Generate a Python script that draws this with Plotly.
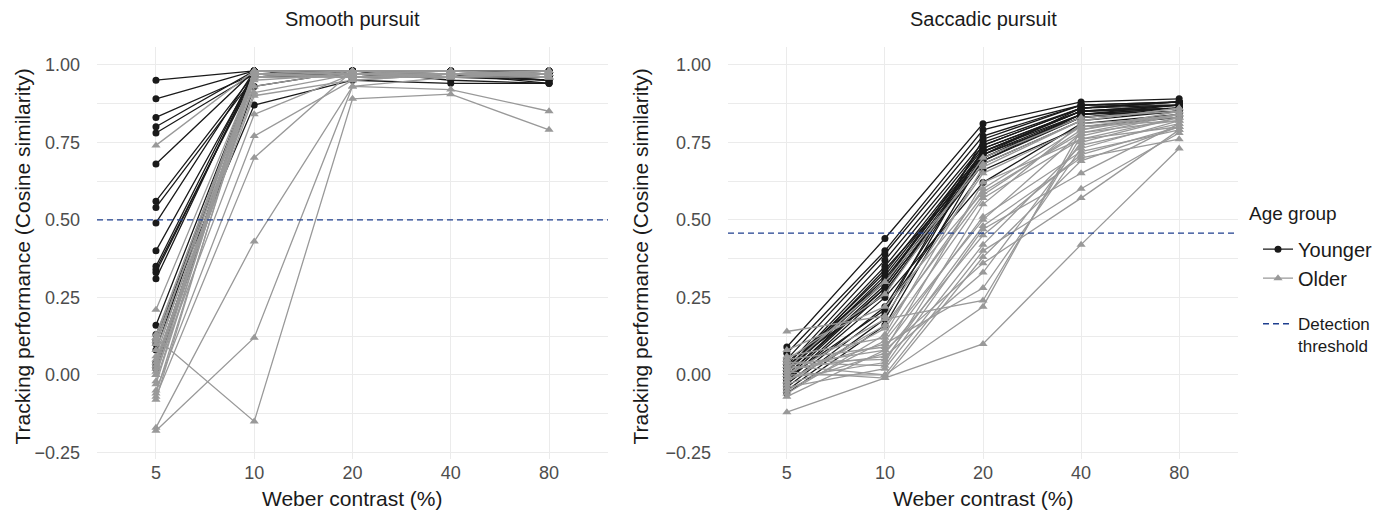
import plotly.graph_objects as go

contrast = ["5", "10", "20", "40", "80"]

# ---- Smooth pursuit ----
smooth_young = [
    [0.95, 0.98, 0.98, 0.97, 0.96],
    [0.89, 0.98, 0.97, 0.96, 0.97],
    [0.83, 0.97, 0.98, 0.98, 0.98],
    [0.80, 0.98, 0.97, 0.97, 0.94],
    [0.78, 0.97, 0.98, 0.96, 0.97],
    [0.68, 0.98, 0.97, 0.97, 0.96],
    [0.56, 0.97, 0.98, 0.98, 0.98],
    [0.54, 0.96, 0.97, 0.96, 0.95],
    [0.49, 0.98, 0.96, 0.97, 0.97],
    [0.40, 0.97, 0.98, 0.95, 0.94],
    [0.35, 0.98, 0.97, 0.97, 0.96],
    [0.34, 0.96, 0.98, 0.98, 0.97],
    [0.33, 0.97, 0.96, 0.96, 0.98],
    [0.31, 0.98, 0.97, 0.97, 0.95],
    [0.16, 0.97, 0.98, 0.96, 0.96],
    [0.13, 0.87, 0.95, 0.94, 0.94],
    [0.10, 0.97, 0.97, 0.97, 0.97],
    [0.08, 0.98, 0.98, 0.98, 0.98],
    [0.04, 0.96, 0.97, 0.96, 0.96],
    [0.03, 0.97, 0.96, 0.97, 0.95],
    [0.02, 0.93, 0.98, 0.98, 0.97],
    [0.11, 0.98, 0.97, 0.96, 0.96],
]
smooth_old = [
    [0.74, 0.98, 0.97, 0.97, 0.97],
    [0.21, 0.97, 0.98, 0.98, 0.96],
    [0.13, 0.96, 0.96, 0.96, 0.98],
    [0.12, 0.98, 0.97, 0.97, 0.97],
    [0.11, 0.93, 0.98, 0.98, 0.96],
    [0.10, 0.97, 0.96, 0.97, 0.97],
    [0.08, 0.91, 0.97, 0.96, 0.98],
    [0.06, 0.98, 0.98, 0.98, 0.96],
    [0.05, 0.90, 0.95, 0.97, 0.97],
    [0.03, 0.97, 0.97, 0.96, 0.98],
    [0.02, 0.96, 0.96, 0.97, 0.96],
    [0.01, 0.84, 0.97, 0.98, 0.97],
    [0.00, 0.98, 0.98, 0.97, 0.98],
    [-0.02, 0.97, 0.96, 0.96, 0.96],
    [-0.05, 0.77, 0.95, 0.97, 0.97],
    [-0.06, 0.95, 0.97, 0.98, 0.98],
    [-0.07, 0.70, 0.98, 0.96, 0.97],
    [-0.08, 0.97, 0.96, 0.97, 0.96],
    [0.12, -0.15, 0.89, 0.905, 0.79],
    [-0.17, 0.43, 0.93, 0.92, 0.85],
    [-0.18, 0.12, 0.93, 0.96, 0.97],
    [0.00, 0.98, 0.97, 0.97, 0.98],
    [0.04, 0.96, 0.98, 0.98, 0.96],
    [-0.03, 0.97, 0.96, 0.97, 0.97],
]

# ---- Saccadic pursuit ----
sacc_young = [
    [0.09, 0.44, 0.81, 0.88, 0.89],
    [0.07, 0.40, 0.79, 0.87, 0.88],
    [0.05, 0.39, 0.77, 0.87, 0.88],
    [0.03, 0.37, 0.75, 0.86, 0.88],
    [0.02, 0.35, 0.74, 0.86, 0.87],
    [0.02, 0.33, 0.73, 0.85, 0.87],
    [0.01, 0.32, 0.72, 0.85, 0.87],
    [0.01, 0.30, 0.72, 0.84, 0.86],
    [0.00, 0.29, 0.71, 0.84, 0.86],
    [0.00, 0.28, 0.70, 0.83, 0.86],
    [-0.01, 0.28, 0.69, 0.83, 0.85],
    [-0.02, 0.27, 0.68, 0.82, 0.85],
    [-0.02, 0.25, 0.62, 0.81, 0.84],
    [-0.03, 0.22, 0.71, 0.86, 0.88],
    [-0.04, 0.20, 0.76, 0.87, 0.87],
    [-0.05, 0.18, 0.73, 0.85, 0.86],
    [-0.06, 0.16, 0.70, 0.84, 0.87],
    [0.04, 0.30, 0.74, 0.86, 0.88],
    [0.03, 0.26, 0.72, 0.85, 0.86],
    [0.01, 0.34, 0.69, 0.84, 0.85],
    [-0.01, 0.21, 0.66, 0.80, 0.83],
    [0.02, 0.31, 0.71, 0.83, 0.85],
]
sacc_old = [
    [0.14, 0.19, 0.65, 0.80, 0.84],
    [-0.12, -0.01, 0.10, 0.42, 0.73],
    [0.08, 0.22, 0.59, 0.78, 0.82],
    [0.06, 0.12, 0.57, 0.76, 0.80],
    [0.05, 0.09, 0.51, 0.72, 0.79],
    [0.04, 0.05, 0.48, 0.70, 0.76],
    [0.04, 0.03, 0.47, 0.65, 0.81],
    [0.03, 0.00, 0.40, 0.60, 0.78],
    [0.03, 0.08, 0.36, 0.57, 0.79],
    [0.02, 0.06, 0.33, 0.75, 0.83],
    [0.01, 0.10, 0.28, 0.73, 0.82],
    [0.00, 0.18, 0.24, 0.77, 0.84],
    [0.00, 0.00, 0.22, 0.79, 0.85],
    [-0.01, 0.04, 0.55, 0.81, 0.83],
    [-0.02, 0.15, 0.60, 0.80, 0.82],
    [-0.03, 0.07, 0.45, 0.71, 0.80],
    [-0.04, 0.02, 0.42, 0.74, 0.81],
    [-0.05, 0.11, 0.50, 0.78, 0.84],
    [-0.06, 0.13, 0.67, 0.82, 0.86],
    [-0.07, 0.08, 0.62, 0.76, 0.83],
    [0.05, 0.26, 0.70, 0.83, 0.85],
    [0.02, 0.30, 0.68, 0.82, 0.86],
    [-0.02, 0.16, 0.58, 0.79, 0.84],
    [0.01, -0.01, 0.38, 0.69, 0.80],
]

thresholds = [0.50, 0.457]
panel_titles = ["Smooth pursuit", "Saccadic pursuit"]
y_ticks = [-0.25, 0.00, 0.25, 0.50, 0.75, 1.00]
y_tick_text = ["\u22120.25", "0.00", "0.25", "0.50", "0.75", "1.00"]

YOUNG_COL = "#1a1a1a"
OLD_COL = "#999999"
THR_COL = "#1F3F8F"
FONT = "Liberation Sans, Arial, Helvetica, sans-serif"

W, H = 1387, 517
xdom = [[97 / W, 608 / W], [728 / W, 1238 / W]]
ydom = [(H - 462) / H, (H - 47) / H]

xpos = list(range(len(contrast)))

fig = go.Figure()
panels = [(smooth_young, smooth_old), (sacc_young, sacc_old)]
for p, (young, old) in enumerate(panels):
    xa = "x" if p == 0 else "x2"
    ya = "y" if p == 0 else "y2"
    for i, subj in enumerate(young):
        fig.add_trace(go.Scatter(
            x=xpos, y=subj, xaxis=xa, yaxis=ya, mode="lines+markers",
            line=dict(color=YOUNG_COL, width=1.3),
            marker=dict(color=YOUNG_COL, size=7, symbol="circle"),
            name="Younger", legendgroup="age", legendrank=1, legend="legend",
            showlegend=(p == 0 and i == 0), hoverinfo="skip"))
    for i, subj in enumerate(old):
        fig.add_trace(go.Scatter(
            x=xpos, y=subj, xaxis=xa, yaxis=ya, mode="lines+markers",
            line=dict(color=OLD_COL, width=1.3),
            marker=dict(color=OLD_COL, size=8, symbol="triangle-up"),
            name="Older", legendgroup="age", legendrank=2, legend="legend",
            showlegend=(p == 0 and i == 0), hoverinfo="skip"))
    fig.add_trace(go.Scatter(
        x=[-0.6, len(contrast) - 0.4], y=[thresholds[p]] * 2, xaxis=xa, yaxis=ya,
        mode="lines", line=dict(color=THR_COL, width=1.4, dash="6px,4px"),
        name="Detection<br>threshold", legend="legend2",
        showlegend=(p == 0), hoverinfo="skip"))

axis_common = dict(showline=False, zeroline=False, ticks="",
                   gridcolor="#EBEBEB", gridwidth=1.1,
                   tickfont=dict(family=FONT, size=18, color="#4D4D4D"))

for p in range(2):
    sfx = "" if p == 0 else "2"
    fig.update_layout(**{
        "xaxis" + sfx: dict(domain=xdom[p], range=[-0.6, len(contrast) - 0.4],
                            tickvals=xpos, ticktext=contrast,
                            anchor="y" + sfx, ticklabelstandoff=1, **axis_common),
        "yaxis" + sfx: dict(domain=ydom, range=[-0.272, 1.058],
                            tickvals=y_ticks, ticktext=y_tick_text,
                            anchor="x" + sfx, ticklabelstandoff=16,
                            minor=dict(tickvals=[-0.125, 0.125, 0.375, 0.625, 0.875],
                                       showgrid=True, gridcolor="#EBEBEB", gridwidth=0.8),
                            **axis_common),
    })

annotations = []
for p in range(2):
    cx = (xdom[p][0] + xdom[p][1]) / 2
    annotations.append(dict(text=panel_titles[p], x=cx, y=1 - 19 / H, xref="paper", yref="paper",
                            showarrow=False, xanchor="center", yanchor="middle",
                            font=dict(family=FONT, size=20, color="#1a1a1a")))
    annotations.append(dict(text="Weber contrast (%)", x=cx, y=1 - 501 / H, xref="paper", yref="paper",
                            showarrow=False, xanchor="center", yanchor="middle",
                            font=dict(family=FONT, size=21, color="#1a1a1a")))
    annotations.append(dict(text="Tracking performance (Cosine similarity)",
                            x=(23 if p == 0 else 641) / W, y=1 - 258 / H,
                            xref="paper", yref="paper", textangle=-90,
                            showarrow=False, xanchor="center", yanchor="middle",
                            font=dict(family=FONT, size=21, color="#1a1a1a")))
annotations.append(dict(text="Age group", x=1247 / W, y=1 - 215 / H, xref="paper", yref="paper",
                        showarrow=False, xanchor="left", yanchor="middle",
                        font=dict(family=FONT, size=19, color="#1a1a1a")))

fig.update_layout(
    width=W, height=H, margin=dict(l=0, r=0, t=0, b=0),
    plot_bgcolor="white", paper_bgcolor="white",
    annotations=annotations,
    legend=dict(x=1258 / W, y=1 - 231 / H, xanchor="left", yanchor="top",
                font=dict(family=FONT, size=20, color="#1a1a1a"),
                itemwidth=30, bgcolor="rgba(0,0,0,0)"),
    legend2=dict(x=1258 / W, y=1 - 308 / H, xanchor="left", yanchor="top",
                 font=dict(family=FONT, size=17, color="#1a1a1a"),
                 itemwidth=30, valign="top", bgcolor="rgba(0,0,0,0)"),
)

fig.write_html("out.html")
